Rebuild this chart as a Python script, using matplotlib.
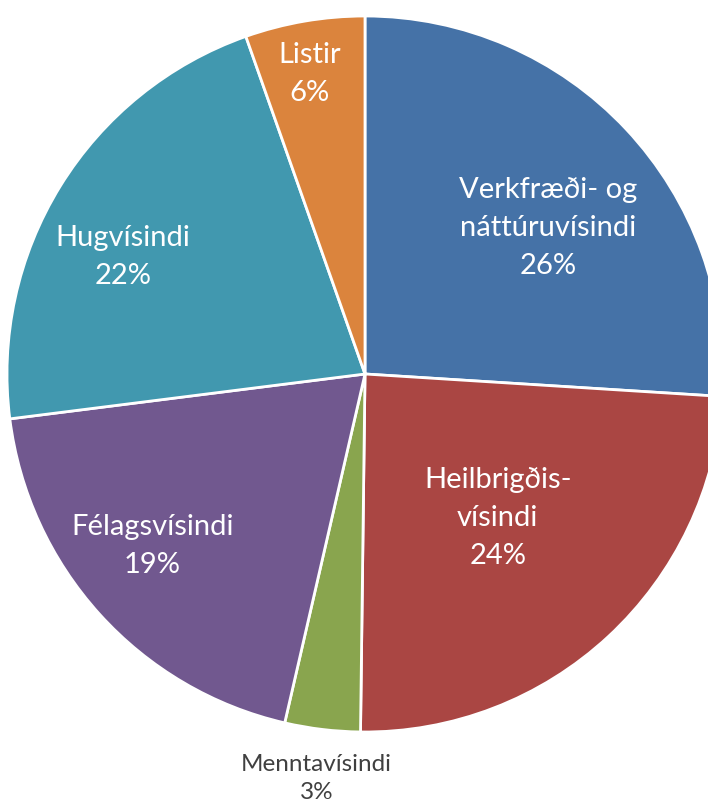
import numpy as np
import matplotlib
matplotlib.use("Agg")
import matplotlib.pyplot as plt

plt.rcParams["font.family"] = ["Lato", "DejaVu Sans"]

# Share of each field (clockwise from 12 o'clock)
fields = ["Verkfræði- og\nnáttúruvísindi", "Heilbrigðis-\nvísindi", "Menntavísindi",
          "Félagsvísindi", "Hugvísindi", "Listir"]
shares = [26.0, 24.2, 3.4, 19.4, 21.6, 5.4]
pct_labels = ["26%", "24%", "3%", "19%", "22%", "6%"]
colors = ["#4572A7", "#AA4643", "#89A54E", "#71588F", "#4198AF", "#DB843D"]

# label placement: distance from centre (in radii) and angle nudge from the wedge middle
label_dist = [0.656, 0.545, 1.135, 0.763, 0.752, 0.855]
label_shift = [-4.4, 0.0, 0.0, -3.3, 5.7, 0.7]
inside = [True, True, False, True, True, True]

# pie centre / radius in pixels of the 708x803 canvas
W, H = 708, 803
CX, CY, R = 365, 375, 358

fig = plt.figure(figsize=(W / 100, H / 100), dpi=100)
ax = fig.add_axes([0, 0, 1, 1])

wedges, _ = ax.pie(shares, colors=colors, startangle=90, counterclock=False,
                   radius=1.0, wedgeprops=dict(edgecolor="white", linewidth=2))

# pie() resets the limits, so set them afterwards
ax.set_xlim(-CX / R, (W - CX) / R)
ax.set_ylim((CY - H) / R, CY / R)
ax.set_aspect("equal")
ax.axis("off")

for w, name, pct, d, sh, ins in zip(wedges, fields, pct_labels, label_dist,
                                    label_shift, inside):
    mid = np.deg2rad((w.theta1 + w.theta2) / 2 + sh)
    x, y = d * np.cos(mid), d * np.sin(mid)
    if ins:
        ax.text(x, y, f"{name}\n{pct}", ha="center", va="center", color="white",
                fontsize=21, linespacing=1.58)
    else:
        ax.text(x, y, f"{name}\n{pct}", ha="center", va="center", color="#404040",
                fontsize=17.5, linespacing=1.4)

fig.savefig("out.png", dpi=100)
